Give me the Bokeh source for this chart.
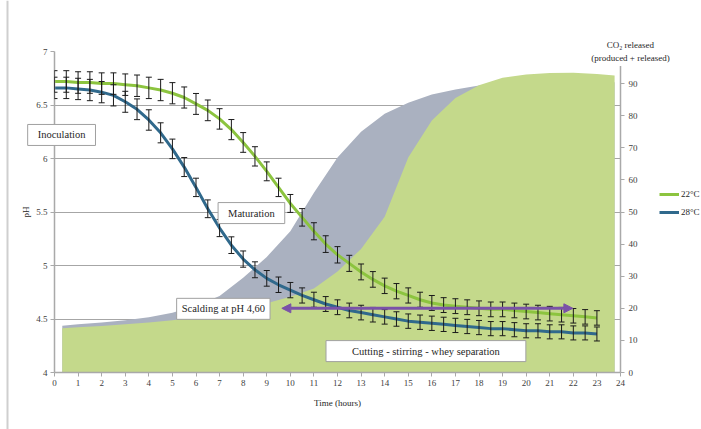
from bokeh.plotting import figure
from bokeh.models import (Range1d, LinearAxis, FixedTicker, CustomJSTickFormatter, ColumnDataSource,
                          Whisker, TeeHead, Label, Arrow, NormalHead, Legend, LegendItem, BoxAnnotation)
from bokeh.embed import file_html
from bokeh.resources import INLINE

# ---------------- data ----------------
hours = [0, 0.5, 1, 1.5, 2, 2.5, 3, 3.5, 4, 4.5, 5, 5.5, 6, 6.5, 7, 7.5, 8, 8.5, 9, 9.5,
         10, 10.5, 11, 11.5, 12, 12.5, 13, 13.5, 14, 14.5, 15, 15.5, 16, 16.5, 17, 17.5,
         18, 18.5, 19, 19.5, 20, 20.5, 21, 21.5, 22, 22.5, 23]
ph_22 = [6.72, 6.72, 6.71, 6.71, 6.70, 6.70, 6.69, 6.68, 6.66, 6.64, 6.61, 6.57, 6.51, 6.45,
         6.37, 6.27, 6.15, 6.02, 5.88, 5.73, 5.58, 5.45, 5.32, 5.20, 5.10, 5.02, 4.94, 4.87,
         4.81, 4.76, 4.72, 4.68, 4.65, 4.63, 4.62, 4.61, 4.60, 4.59, 4.59, 4.58, 4.57, 4.56,
         4.55, 4.54, 4.53, 4.52, 4.51]
ph_28 = [6.66, 6.66, 6.65, 6.64, 6.62, 6.59, 6.53, 6.46, 6.36, 6.24, 6.09, 5.92, 5.73, 5.53,
         5.35, 5.19, 5.06, 4.96, 4.88, 4.82, 4.77, 4.72, 4.68, 4.64, 4.61, 4.58, 4.56, 4.54,
         4.52, 4.50, 4.48, 4.47, 4.46, 4.45, 4.44, 4.43, 4.42, 4.41, 4.41, 4.40, 4.39, 4.39,
         4.38, 4.38, 4.37, 4.37, 4.36]
err_pct = 1.5  # percentage error bars

co2_hours = [0.33, 1, 2, 3, 4, 5, 6, 7, 8, 9, 10, 11, 12, 13, 14, 15, 16, 17, 18, 19, 20,
             21, 22, 23, 23.75]
co2_produced = [14.6, 15.0, 15.6, 16.3, 17.2, 18.6, 20.8, 23.8, 29.5, 36.0, 44.0, 56.0, 67.0,
                75.0, 80.6, 84.0, 86.6, 88.2, 89.4, 90.2, 90.6, 90.8, 90.8, 90.6, 90.4]
co2_released = [13.8, 14.1, 14.5, 15.0, 15.6, 16.3, 17.2, 18.3, 19.8, 21.6, 23.6, 26.2, 31.5,
                38.5, 48.5, 67.0, 78.5, 85.5, 89.5, 91.8, 92.8, 93.3, 93.4, 93.0, 92.5]

x_ticks = list(range(0, 25))
ph_ticks = [4, 4.5, 5, 5.5, 6, 6.5, 7]
co2_ticks = [0, 10, 20, 30, 40, 50, 60, 70, 80, 90]

series_names = ["22°C", "28°C"]
scald_ph = 4.6
scald_span = (9.64, 21.98)

notes = [("Maturation", 8.35, 5.49, (10, 5)),
         ("Scalding at pH 4,60", 7.16, 4.595, (5, 5)),
         ("Cutting - stirring - whey separation", 15.75, 4.20, (26, 5))]
inoc_note = ("Inoculation", 0.30, 6.22, (10, 5))
co2_title = ("CO\u2082 released\n(produced + released)", 24.42, 7.0)

# ---------------- style / layout ----------------
W, H = 701, 429
BL, BR, BT, BB = 54, 81, 51, 57   # frame borders in px
FONT = "Liberation Serif"
GREEN = "#8cc43f"
BLUE = "#30698c"
AREA_GREEN = "#c4d98b"
AREA_GREY = "#aab1c0"
PURPLE = "#7a52a8"
AXIS = "#a9a9a9"
TXT = "#404040"

X0, X1, Y0, Y1 = 0, 24, 4, 7

p = figure(width=W, height=H, x_range=Range1d(X0, X1), y_range=Range1d(Y0, Y1),
           output_backend="svg", toolbar_location=None,
           min_border_left=BL, min_border_right=BR, min_border_top=BT, min_border_bottom=BB,
           outline_line_color=None, background_fill_color="white", border_fill_color="white")
p.extra_y_ranges = {"co2": Range1d(0, 100)}

p.varea(x=co2_hours, y1=0, y2=co2_produced, y_range_name="co2", fill_color=AREA_GREY)
p.varea(x=co2_hours, y1=0, y2=co2_released, y_range_name="co2", fill_color=AREA_GREEN)

l22 = p.line(hours, ph_22, line_color=GREEN, line_width=3)
l28 = p.line(hours, ph_28, line_color=BLUE, line_width=3)

for vals in (ph_22, ph_28):
    src = ColumnDataSource(dict(x=hours,
                                up=[v * (1 + err_pct / 100) for v in vals],
                                lo=[v * (1 - err_pct / 100) for v in vals]))
    w = Whisker(base="x", upper="up", lower="lo", source=src, line_color="#1a1a1a", line_width=1,
                level="annotation",
                upper_head=TeeHead(size=6, line_color="#1a1a1a", line_width=1),
                lower_head=TeeHead(size=6, line_color="#1a1a1a", line_width=1))
    p.add_layout(w)

p.add_layout(Arrow(start=NormalHead(size=9, fill_color=PURPLE, line_color=PURPLE),
                   end=NormalHead(size=9, fill_color=PURPLE, line_color=PURPLE),
                   x_start=scald_span[0], y_start=scald_ph, x_end=scald_span[1], y_end=scald_ph,
                   line_color=PURPLE, line_width=3))

def note_label(text, x, y, pad):
    return Label(x=x, y=y, text=text, text_align="center", text_baseline="middle",
                 text_font=FONT, text_font_size="10.5px", text_color="#262626",
                 background_fill_color="white", border_line_color="#a0a0a0",
                 border_line_width=1, padding=pad)

for text, x, y, pad in notes:
    p.add_layout(note_label(text, x, y, pad))

# axes
def style_axis(ax):
    ax.axis_line_color = AXIS
    ax.axis_line_width = 1.5
    ax.major_tick_line_color = AXIS
    ax.major_tick_in = 0
    ax.major_tick_out = 4
    ax.minor_tick_line_color = None
    ax.major_label_text_font = FONT
    ax.major_label_text_font_size = "9px"
    ax.major_label_text_color = TXT
    ax.major_label_standoff = 3
    ax.axis_label_text_font = FONT
    ax.axis_label_text_font_size = "9px"
    ax.axis_label_text_font_style = "normal"
    ax.axis_label_text_color = "#262626"

xa = p.xaxis[0]
xa.ticker = FixedTicker(ticks=x_ticks)
xa.axis_label = "Time (hours)"
style_axis(xa)
xa.axis_label_standoff = 9

ya = p.yaxis[0]
ya.ticker = FixedTicker(ticks=ph_ticks)
ya.formatter = CustomJSTickFormatter(code="return String(tick);")
ya.axis_label = "pH"
style_axis(ya)
ya.axis_label_standoff = 2

ra = LinearAxis(y_range_name="co2", ticker=FixedTicker(ticks=co2_ticks), bounds=(0, 95.5))
style_axis(ra)
ra.major_label_standoff = 4
p.add_layout(ra, "right")

p.xgrid.visible = False
p.ygrid.ticker = FixedTicker(ticks=ph_ticks[1:])
p.ygrid.grid_line_color = "#a6a6a6"
p.ygrid.grid_line_width = 1

# ---------- transparent overlay for the texts that sit outside the frame ----------
sx = (W - BL - BR) / (X1 - X0)
sy = (H - BT - BB) / (Y1 - Y0)
ov = figure(width=W, height=H,
            x_range=Range1d(X0 - BL / sx, X1 + BR / sx),
            y_range=Range1d(Y0 - BB / sy, Y1 + BT / sy),
            output_backend="svg", toolbar_location=None,
            x_axis_location=None, y_axis_location=None, min_border=0,
            outline_line_color=None, background_fill_alpha=0, border_fill_alpha=0)
ov.grid.visible = False
ov.styles = {"position": "absolute", "left": "0px", "top": "0px"}

# legend proxies (kept outside the visible range, only their style is used by the legend)
g22 = ov.line([-100, -99], [0, 0], line_color=GREEN, line_width=3)
g28 = ov.line([-100, -99], [0, 0], line_color=BLUE, line_width=3)
legend = Legend(items=[LegendItem(label=series_names[0], renderers=[g22]),
                       LegendItem(label=series_names[1], renderers=[g28])],
                location=(659, 210), margin=0, padding=0, spacing=4,
                glyph_width=20, glyph_height=14, label_height=14, label_standoff=2,
                label_text_font=FONT, label_text_font_size="9px", label_text_color="#262626",
                border_line_color=None, background_fill_alpha=0)
ov.add_layout(legend)

ov.add_layout(note_label(*inoc_note))
ov.add_layout(Label(x=co2_title[1], y=co2_title[2], text=co2_title[0],
                    text_align="center", text_baseline="middle", text_font=FONT,
                    text_font_size="9px", text_color="#262626", text_line_height=1.3,
                    background_fill_color="white", padding=3))

ov.add_layout(BoxAnnotation(left=6, right=8, left_units="screen", right_units="screen",
                            fill_color="#cfcfcf", fill_alpha=1, line_color=None))

open("out.html", "w").write(file_html([p, ov], INLINE))
